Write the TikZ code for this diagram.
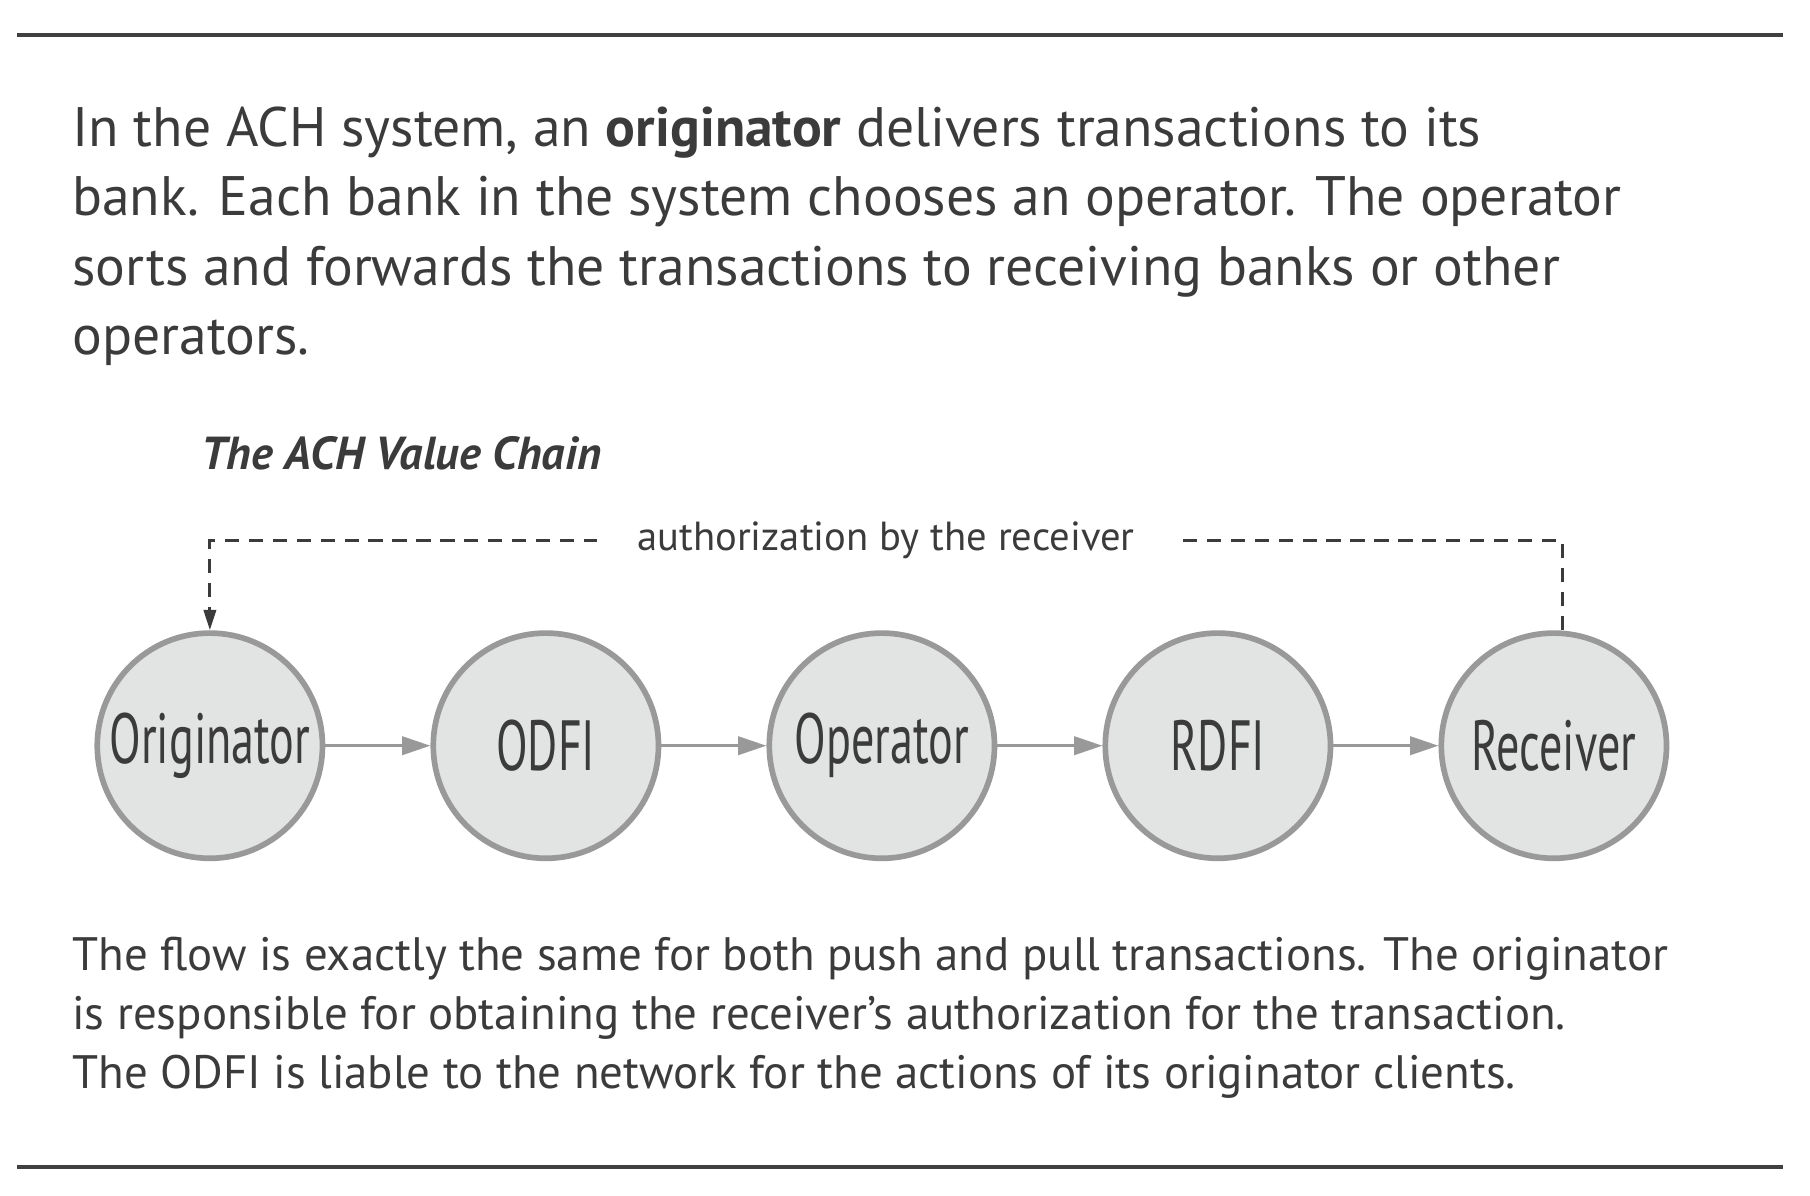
\documentclass[tikz,border=0pt]{standalone}
\usepackage{fontspec}
\setmainfont{PT Sans}
\usetikzlibrary{arrows.meta,positioning}

\definecolor{inkgray}{HTML}{3B3B3B}
\definecolor{rulegray}{HTML}{404040}
\definecolor{stationfill}{HTML}{E2E3E3}
\definecolor{stationline}{HTML}{999999}

\newcommand{\narrow}[1]{\scalebox{0.65}[1]{#1}}

\tikzset{
    station/.style={circle, draw=stationline, fill=stationfill, line width=1.4pt,
        minimum size=1.95cm, inner sep=0pt, text=inkgray, font=\fontsize{17.5}{17.5}\selectfont},
    flow/.style={draw=stationline, line width=0.8pt, -{Triangle[length=7pt, width=4.5pt]}},
    authline/.style={draw=inkgray, line width=0.75pt, dash pattern=on 3.5pt off 2.4pt,
        -{Triangle[length=5pt, width=3pt]}},
    prose/.style={anchor=base west, align=left, inner sep=0pt, text=inkgray}
}

\begin{document}
\begin{tikzpicture}[x=0.01cm, y=-0.01cm]
    \useasboundingbox (0,0) rectangle (1568,1036);

    % Linie
    \draw[rulegray, line width=1pt] (15,30) -- (1545,30);
    \draw[rulegray, line width=1pt] (15,1011) -- (1545,1011);

    % Tekst (base = ostatnia linia)
    \node[prose, font=\fontsize{13.7}{17.07}\selectfont] (intro) at (62,307)
        {In the ACH system, an \textbf{originator} delivers transactions to its\\
         bank. Each bank in the system chooses an operator. The operator\\
         sorts and forwards the transactions to receiving banks or other\\
         operators.};
    \node[prose, font=\fontsize{11.4}{11.4}\selectfont\bfseries\itshape] (title) at (174,407) {The ACH Value Chain};

    \matrix[draw=none, column sep=0.91cm] at (764,646) {
        \node[station] (originator) {\narrow{Originator}}; &
        \node[station] (odfi) {\narrow{ODFI}}; &
        \node[station] (operator) {\narrow{Operator}}; &
        \node[station] (rdfi) {\narrow{RDFI}}; &
        \node[station] (receiver) {\narrow{Receiver}}; \\
    };

    \draw[flow] (originator) -- (odfi);
    \draw[flow] (odfi) -- (operator);
    \draw[flow] (operator) -- (rdfi);
    \draw[flow] (rdfi) -- (receiver);

    % Autoryzacja
    \coordinate (authtop) at (originator.north |- 0,468);
    \draw[authline] ([xshift=0.07cm]receiver.north) -- ([xshift=0.07cm]receiver.north |- authtop)
        -- node[fill=white, inner xsep=10pt, text=inkgray, font=\fontsize{10}{10}\selectfont] (authlabel)
        {authorization by the receiver} (authtop) -- (originator.north);

    \node[prose, font=\fontsize{11.55}{14.5}\selectfont] (note) at (62,943)
        {The flow is exactly the same for both push and pull transactions. The originator\\
         is responsible for obtaining the receiver’s authorization for the transaction.\\
         The ODFI is liable to the network for the actions of its originator clients.};
\end{tikzpicture}
\end{document}
